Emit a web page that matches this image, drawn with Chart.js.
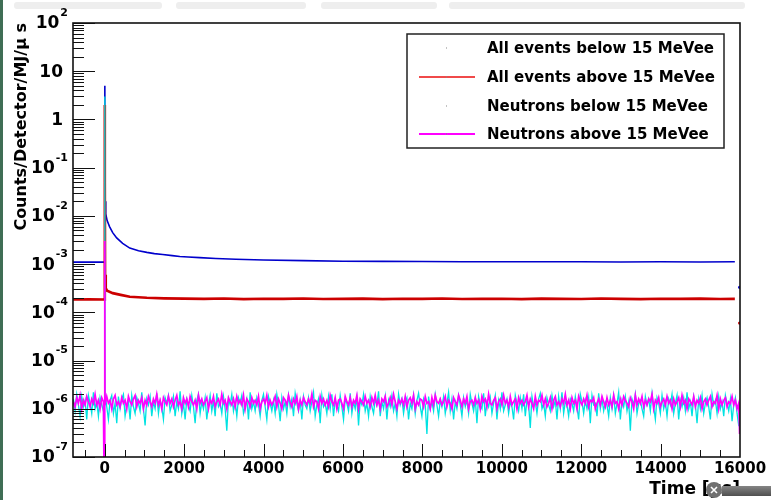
<!DOCTYPE html>
<html>
<head>
<meta charset="utf-8">
<script src="https://cdn.jsdelivr.net/npm/chart.js@4.4.1/dist/chart.umd.min.js"></script>
<style>
  html, body { margin: 0; padding: 0; background: #fff; }
  canvas { display: block; }
</style>
</head>
<body>
<canvas id="myChart" width="771" height="500"></canvas>
<script>
const seriesNames = [
  "All events below 15 MeVee",
  "All events above 15 MeVee",
  "Neutrons below 15 MeVee",
  "Neutrons above 15 MeVee",
];
const xTicks = [0, 2000, 4000, 6000, 8000, 10000, 12000, 14000, 16000];
const yDecades = [-7, -6, -5, -4, -3, -2, -1, 0, 1, 2];

// all events below 15 MeVee (blue)
const blueT = [-800, -400, -5, 0, 4, 10, 25, 60, 120, 200, 300, 450, 630, 850, 1060, 1250, 1460, 1700, 1890, 2100,
  2390, 2800, 3300, 4000, 5000, 6000, 7000, 8000, 9000, 10000, 11000, 12000, 13000, 14000, 15000, 15870, 15930, 15990];
const blueV = [1.1e-3, 1.1e-3, 1.1e-3, 5, 0.3, 0.02, 1.1e-2, 8e-3, 6e-3, 4.5e-3, 3.5e-3, 2.7e-3, 2.15e-3, 1.9e-3, 1.75e-3, 1.65e-3, 1.58e-3, 1.5e-3, 1.44e-3, 1.4e-3,
  1.36e-3, 1.31e-3, 1.26e-3, 1.22e-3, 1.18e-3, 1.15e-3, 1.14e-3, 1.13e-3, 1.12e-3, 1.12e-3, 1.12e-3, 1.12e-3, 1.11e-3, 1.12e-3, 1.11e-3, 1.12e-3, null, 3.3e-4];

// all events above 15 MeVee (red)
const redT = [-800, -400, -4, 0, 3, 8, 25, 60, 200, 400, 630, 1060, 1500, 2000,
  2500, 3000, 3500, 4000, 4500, 5000, 5500, 6000, 6500, 7000, 7500, 8000, 8500, 9000, 9500, 10000,
  10500, 11000, 11500, 12000, 12500, 13000, 13500, 14000, 14500, 15000, 15500, 15870, 15930, 15990];
const redV = [1.85e-4, 1.87e-4, 1.85e-4, 2, 0.05, 6e-4, 3.2e-4, 2.8e-4, 2.5e-4, 2.3e-4, 2.1e-4, 2.0e-4, 1.95e-4, 1.92e-4,
  1.9e-4, 1.93e-4, 1.88e-4, 1.91e-4, 1.9e-4, 1.94e-4, 1.89e-4, 1.9e-4, 1.92e-4, 1.88e-4, 1.91e-4, 1.9e-4, 1.93e-4, 1.89e-4, 1.9e-4, 1.91e-4,
  1.88e-4, 1.92e-4, 1.9e-4, 1.89e-4, 1.93e-4, 1.9e-4, 1.88e-4, 1.91e-4, 1.9e-4, 1.92e-4, 1.89e-4, 1.9e-4, null, 6e-5];

// neutron histograms, regular time bins, values in units of 1e-6
const binStart = -790;
const binWidth = 42;
const neutronUnit = 1e-6;
const cyanVals = [
  1.6, 0.9, 2.0, 1.2, 0.7, 1.8, 1.1, 1.5, 0.6, 1.9, 1.3, 0.8, 2.2, 1.0, 1.4, 0.7, 1.7, 1.2, 0.9, 2.1,
  1.1, 0.6, 1.5, 1.9, 0.8, 1.3, 0.5, 1.8, 1.0, 1.6, 2.0, 0.7, 1.2, 1.4, 0.6, 1.9, 1.1, 0.8, 1.7, 1.3,
  0.9, 2.2, 1.0, 0.45, 1.6, 1.2, 1.8, 0.7, 1.4, 1.0, 2.1, 0.8, 1.5, 1.1, 0.6, 1.7, 1.3, 1.9, 0.9, 1.2,
  1.8, 0.7, 1.4, 1.0, 2.3, 0.8, 1.3, 0.6, 1.6, 1.2, 0.9, 1.9, 1.1, 0.5, 1.5, 2.0, 0.8, 1.4, 1.0, 1.7,
  0.6, 1.2, 1.9, 0.9, 1.5, 0.7, 2.1, 1.1, 1.3, 0.8, 1.8, 1.0, 0.35, 1.6, 1.2, 2.0, 0.9, 1.4, 0.7, 1.7,
  1.3, 1.9, 0.8, 1.1, 1.6, 0.6, 2.2, 1.0, 1.4, 0.9, 1.7, 1.2, 0.7, 1.5, 2.0, 1.1, 0.6, 1.8, 1.3, 0.9,
  1.5, 0.8, 2.0, 1.2, 0.55, 1.7, 1.0, 1.4, 0.8, 1.9, 1.1, 1.6, 0.7, 2.1, 1.3, 0.9, 1.5, 0.6, 1.8, 1.2,
  1.0, 1.7, 0.9, 1.4, 2.2, 0.7, 1.2, 1.6, 0.5, 1.9, 1.1, 1.3, 0.8, 1.8, 1.0, 2.0, 0.7, 1.5, 1.2, 0.9,
  1.9, 1.1, 0.6, 1.6, 1.3, 0.9, 2.1, 0.8, 1.4, 1.0, 1.7, 0.45, 1.5, 1.2, 2.0, 0.9, 1.3, 0.7, 1.8, 1.1,
  0.8, 1.6, 1.2, 2.3, 0.7, 1.4, 1.0, 1.8, 0.6, 1.5, 1.1, 1.9, 0.9, 1.3, 0.7, 2.0, 1.2, 1.6, 0.8, 1.4,
  1.7, 0.6, 1.3, 1.0, 1.9, 0.8, 1.5, 2.1, 1.1, 0.7, 1.6, 1.2, 0.3, 1.8, 1.0, 1.4, 0.9, 2.0, 1.2, 0.7,
  1.5, 1.1, 1.8, 0.8, 1.3, 2.2, 0.9, 1.6, 0.6, 1.4, 1.0, 1.9, 1.2, 0.7, 1.7, 1.1, 1.5, 0.8, 2.0, 1.3,
  0.9, 1.6, 0.5, 1.8, 1.2, 1.0, 2.1, 0.7, 1.4, 1.1, 1.7, 0.8, 1.3, 1.9, 0.6, 1.5, 1.0, 2.2, 0.9, 1.2,
  1.6, 0.8, 1.4, 1.1, 0.6, 1.9, 1.3, 0.9, 1.7, 1.0, 2.0, 0.7, 1.5, 1.2, 0.4, 1.8, 1.1, 1.4, 0.8, 1.6,
  2.1, 1.0, 1.3, 0.7, 1.7, 1.2, 0.9, 1.9, 1.1, 1.5, 0.6, 1.8, 1.0, 2.2, 0.8, 1.4, 1.2, 0.7, 1.6, 1.3,
  0.9, 1.8, 1.1, 0.6, 2.0, 1.4, 0.8, 1.5, 1.0, 1.7, 0.5, 1.9, 1.2, 1.3, 0.7, 2.1, 1.0, 1.6, 0.9, 1.4,
  1.2, 0.7, 1.7, 1.0, 1.9, 0.8, 1.3, 2.2, 0.6, 1.5, 1.1, 1.8, 0.9, 1.4, 0.35, 1.6, 1.2, 2.0, 0.8, 1.3,
  1.5, 1.0, 0.7, 1.8, 1.2, 1.6, 0.9, 2.1, 1.1, 0.6, 1.7, 1.3, 0.8, 1.9, 1.0, 1.4, 0.7, 1.6, 1.2, 2.0,
  0.8, 1.3, 1.9, 0.6, 1.5, 1.1, 1.7, 0.9, 2.2, 1.0, 1.4, 0.7, 1.8, 1.2, 0.5, 1.6, 1.0, 1.9, 0.8, 1.3,
  1.7, 1.1, 0.6, 2.0, 1.2, 1.5, 0.8, 1.8, 1.0, 1.4, 0.7, 1.9, 1.3, 0.9, 1.6, 0.55, 1.2, 1.7, 0.8, 0.45,
];
const magentaVals = [
  1.4, 1.1, 1.7, 1.3, 1.9, 1.0, 1.5, 1.2, 1.8, 1.4, 1.1, 1.6, 1.3, 2.0, 1.2, 1.5, 1.0, 1.7, 1.4, 1.2,
  1.8, 1.3, 1.5, 1.0, 1.6, 1.9, 1.2, 1.4, 1.1, 1.7, 1.3, 1.5, 1.0, 1.8, 1.4, 1.2, 1.6, 1.9, 1.1, 1.5,
  1.3, 1.7, 1.0, 1.5, 1.2, 1.8, 1.4, 1.1, 1.6, 1.3, 2.0, 1.2, 1.5, 1.0, 1.7, 1.4, 1.2, 1.8, 1.3, 1.6,
  1.1, 1.5, 1.9, 1.2, 1.4, 1.0, 1.7, 1.3, 1.6, 1.1, 1.8, 1.4, 1.2, 1.5, 1.0, 1.9, 1.3, 1.6, 1.2, 1.4,
  1.7, 1.0, 1.5, 1.3, 1.8, 1.1, 1.4, 1.6, 1.2, 2.0, 1.3, 1.5, 1.0, 1.7, 1.4, 1.2, 1.6, 1.1, 1.8, 1.3,
  1.5, 1.2, 1.9, 1.0, 1.6, 1.4, 1.1, 1.7, 1.3, 1.5, 1.2, 1.8, 1.0, 1.4, 1.6, 1.3, 1.9, 1.1, 1.5, 1.2,
  1.4, 1.8, 1.1, 1.6, 1.3, 1.0, 1.7, 1.5, 1.2, 1.9, 1.4, 1.1, 1.6, 1.3, 1.8, 1.0, 1.5, 1.2, 1.7, 1.4,
  1.2, 1.6, 1.3, 2.0, 1.1, 1.5, 1.4, 1.0, 1.8, 1.3, 1.6, 1.2, 1.5, 1.1, 1.9, 1.4, 1.2, 1.7, 1.0, 1.5,
  1.6, 1.3, 1.0, 1.8, 1.4, 1.2, 1.7, 1.1, 1.5, 1.3, 1.9, 1.0, 1.6, 1.4, 1.2, 1.8, 1.3, 1.5, 1.1, 1.7,
  1.3, 1.9, 1.2, 1.5, 1.0, 1.6, 1.4, 1.8, 1.1, 1.3, 1.7, 1.2, 2.0, 1.4, 1.0, 1.5, 1.3, 1.6, 1.2, 1.8,
  1.1, 1.5, 1.7, 1.3, 1.9, 1.0, 1.4, 1.2, 1.6, 1.5, 1.1, 1.8, 1.3, 1.4, 1.0, 1.7, 1.2, 1.9, 1.4, 1.3,
  1.6, 1.2, 1.4, 1.8, 1.1, 1.5, 1.3, 1.0, 1.7, 1.4, 1.2, 1.9, 1.5, 1.1, 1.6, 1.3, 1.8, 1.0, 1.4, 1.5,
  1.2, 1.7, 1.3, 1.5, 1.0, 1.8, 1.4, 1.6, 1.1, 2.0, 1.3, 1.2, 1.5, 1.7, 1.0, 1.4, 1.6, 1.2, 1.9, 1.3,
  1.5, 1.1, 1.8, 1.2, 1.4, 1.6, 1.0, 1.7, 1.3, 1.5, 1.2, 1.4, 1.9, 1.1, 1.6, 1.3, 1.0, 1.8, 1.2, 1.5,
  1.4, 1.9, 1.2, 1.6, 1.1, 1.3, 1.7, 1.0, 1.5, 1.8, 1.2, 1.4, 1.1, 1.6, 1.3, 2.0, 1.2, 1.5, 1.0, 1.7,
  1.3, 1.5, 1.0, 1.8, 1.4, 1.2, 1.6, 1.3, 1.9, 1.1, 1.5, 1.4, 1.7, 1.0, 1.3, 1.6, 1.2, 1.8, 1.4, 1.1,
  1.7, 1.2, 1.5, 1.1, 1.9, 1.3, 1.4, 1.0, 1.6, 1.2, 1.8, 1.5, 1.3, 1.1, 1.7, 1.4, 1.0, 1.9, 1.2, 1.6,
  1.3, 1.8, 1.1, 1.5, 1.2, 1.6, 1.4, 2.0, 1.0, 1.5, 1.3, 1.7, 1.1, 1.4, 1.6, 1.2, 1.8, 1.3, 1.5, 1.0,
  1.6, 1.2, 1.4, 1.7, 1.1, 1.9, 1.3, 1.5, 1.0, 1.6, 1.4, 1.2, 1.8, 1.1, 1.5, 1.3, 1.7, 1.0, 1.4, 1.6,
  1.2, 1.5, 1.8, 1.1, 1.4, 1.3, 1.9, 1.0, 1.6, 1.2, 1.5, 1.7, 1.1, 1.4, 1.3, 1.8, 1.2, 1.5, 1.0, 1.3,
];
// beam flash at t = 0 and the last (partial) bin
const cyanSpikeT = [-1, 0, 5, 15990];
const cyanSpikeV = [1.2e-6, 3, 8e-3, 4.5e-7];
const magentaSpikeT = [-2, 0, 6, 15990];
const magentaSpikeV = [1e-9, 3e-3, 1.5e-6, 3e-7];

const blue = "#0000cc", red = "#cc0000", cyan = "#00e2e2", magenta = "#ff00ff";
const boldFont = "DejaVu Sans";

function toPoints(ts, vs) {
  return ts.map((t, i) => ({ x: t, y: vs[i] }));
}
function neutronPoints(vals, spikeT, spikeV) {
  const pts = vals.map((v, i) => ({ x: binStart + i * binWidth, y: v * neutronUnit }));
  return pts.concat(toPoints(spikeT, spikeV)).sort((a, b) => a.x - b.x);
}
function endDot(ts) {
  return ts.map((t, i) => (i === ts.length - 1 ? 1.6 : 0));
}

const rootStyle = {
  id: "rootStyle",
  beforeDraw(chart) {
    const ctx = chart.ctx;
    ctx.save();
    ctx.fillStyle = "#fff";
    ctx.fillRect(0, 0, chart.width, chart.height);
    // bits of the screenshot around the canvas
    ctx.fillStyle = "#3f6e55";
    ctx.fillRect(0, 0, 3, chart.height);
    ctx.fillStyle = "#eeeeee";
    [[14, 162], [176, 306], [321, 437], [449, 745]].forEach(([a, b]) => {
      ctx.beginPath();
      ctx.roundRect(a, 2, b - a, 7, 3);
      ctx.fill();
    });
    ctx.restore();
  },
  afterDatasetsDraw(chart) {
    const { ctx, chartArea: a, scales: { x, y } } = chart;
    ctx.save();
    ctx.strokeStyle = "#111";
    ctx.lineWidth = 1;
    ctx.beginPath();
    for (let v = -500; v < 16000; v += 500) {
      const px = Math.round(x.getPixelForValue(v)) + 0.5;
      const len = v % 2000 === 0 ? 13 : 7;
      ctx.moveTo(px, a.bottom);
      ctx.lineTo(px, a.bottom - len);
    }
    yDecades.forEach((k) => {
      for (let m = 1; m <= 9; m++) {
        const v = m * Math.pow(10, k);
        if (v > 100 * 1.0001) break;
        const py = Math.round(y.getPixelForValue(v)) + 0.5;
        ctx.moveTo(a.left, py);
        ctx.lineTo(a.left + (m === 1 ? 22 : 11), py);
      }
    });
    ctx.stroke();
    ctx.lineWidth = 1.6;
    ctx.strokeStyle = "#111";
    ctx.strokeRect(a.left, a.top, a.right - a.left, a.bottom - a.top);

    // y tick labels, ROOT style powers of ten
    ctx.fillStyle = "#000";
    ctx.textBaseline = "middle";
    yDecades.forEach((k) => {
      const py = y.getPixelForValue(Math.pow(10, k));
      ctx.textAlign = "right";
      if (k === 0 || k === 1) {
        ctx.font = "bold 17px " + boldFont;
        ctx.fillText(k === 0 ? "1" : "10", 63, py + 1);
        return;
      }
      const exp = String(k);
      ctx.font = "bold 11px " + boldFont;
      const ew = ctx.measureText(exp).width;
      ctx.fillText(exp, 68, py - 10);
      ctx.font = "bold 17px " + boldFont;
      ctx.fillText("10", 67 - ew, py + 1);
    });
    ctx.restore();
  },
  afterDraw(chart) {
    const ctx = chart.ctx;
    ctx.save();
    // legend box
    ctx.fillStyle = "#fff";
    ctx.fillRect(407, 34, 317, 114);
    ctx.strokeStyle = "#222";
    ctx.lineWidth = 1.5;
    ctx.strokeRect(407, 34, 317, 114);
    const rows = [48, 77, 106, 134];
    const lineCols = [null, "#f04a4a", null, "#ff00ff"];
    ctx.font = "bold 15px " + boldFont;
    ctx.textAlign = "left";
    ctx.textBaseline = "middle";
    rows.forEach((ry, i) => {
      if (lineCols[i]) {
        ctx.strokeStyle = lineCols[i];
        ctx.lineWidth = 2;
        ctx.beginPath();
        ctx.moveTo(419, ry);
        ctx.lineTo(475, ry);
        ctx.stroke();
      }
      ctx.fillStyle = "#888";
      ctx.fillRect(446, ry - 0.5, 1, 1);
      ctx.fillStyle = "#000";
      ctx.fillText(seriesNames[i], 487, ry + 1);
    });
    // viewer overlay in the bottom right corner
    const g = ctx.createLinearGradient(0, 485, 0, 497);
    g.addColorStop(0, "#8a8a8a");
    g.addColorStop(1, "#4a4a4a");
    ctx.fillStyle = g;
    ctx.fillRect(722, 486, 49, 10);
    ctx.fillStyle = "#707070";
    ctx.beginPath();
    ctx.arc(714, 490, 8, 0, Math.PI * 2);
    ctx.fill();
    ctx.strokeStyle = "#fff";
    ctx.lineWidth = 1.6;
    ctx.beginPath();
    ctx.moveTo(711, 487); ctx.lineTo(717, 493);
    ctx.moveTo(717, 487); ctx.lineTo(711, 493);
    ctx.stroke();
    ctx.restore();
  },
};

const ctx = document.getElementById("myChart");
new Chart(ctx, {
  type: "line",
  data: {
    datasets: [
      {
        label: seriesNames[0],
        data: toPoints(blueT, blueV),
        borderColor: blue,
        borderWidth: 1.6,
        pointRadius: endDot(blueT),
        pointBackgroundColor: blue,
        pointBorderWidth: 0,
        order: 3,
      },
      {
        label: seriesNames[1],
        data: toPoints(redT, redV),
        borderColor: red,
        borderWidth: 2.6,
        pointRadius: endDot(redT),
        pointBackgroundColor: red,
        pointBorderWidth: 0,
        order: 2,
      },
      {
        label: seriesNames[2],
        data: neutronPoints(cyanVals, cyanSpikeT, cyanSpikeV),
        borderColor: cyan,
        borderWidth: 1.3,
        pointRadius: 0,
        order: 1,
      },
      {
        label: seriesNames[3],
        data: neutronPoints(magentaVals, magentaSpikeT, magentaSpikeV),
        borderColor: magenta,
        borderWidth: 1.7,
        pointRadius: 0,
        order: 0,
      },
    ],
  },
  options: {
    animation: false,
    responsive: false,
    devicePixelRatio: 1,
    layout: { padding: { top: 23, right: 31, left: 0, bottom: 0 } },
    elements: { line: { tension: 0 } },
    plugins: {
      legend: { display: false },
      tooltip: { enabled: false },
    },
    scales: {
      x: {
        type: "linear",
        min: -800,
        max: 16000,
        afterBuildTicks: (s) => { s.ticks = xTicks.map((v) => ({ value: v })); },
        afterFit: (s) => { s.height = 43; },
        grid: { display: false, drawTicks: false },
        border: { display: false },
        ticks: {
          color: "#000",
          font: { family: boldFont, weight: "bold", size: 15 },
          padding: 3,
          maxRotation: 0,
          autoSkip: false,
          callback: (v) => String(v),
        },
        title: {
          display: true,
          text: "Time [μs]",
          align: "end",
          color: "#000",
          font: { family: boldFont, weight: "bold", size: 17 },
          padding: { top: 0, bottom: 0 },
        },
      },
      y: {
        type: "logarithmic",
        min: 1e-7,
        max: 100,
        afterFit: (s) => { s.width = 73; },
        grid: { display: false, drawTicks: false },
        border: { display: false },
        ticks: { display: false },
        title: {
          display: true,
          text: "Counts/Detector/MJ/μ s",
          align: "end",
          color: "#000",
          font: { family: boldFont, weight: "bold", size: 16 },
          padding: { top: 12, bottom: 0 },
        },
      },
    },
  },
  plugins: [rootStyle],
});
</script>
</body>
</html>
